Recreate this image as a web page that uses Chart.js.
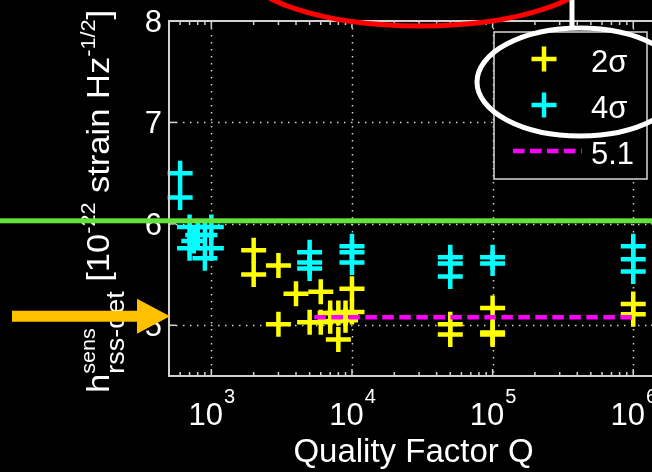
<!DOCTYPE html>
<html><head><meta charset="utf-8">
<script src="https://cdn.jsdelivr.net/npm/chart.js@4/dist/chart.umd.min.js"></script>
<style>html,body{margin:0;padding:0;background:#000;overflow:hidden;width:652px;height:472px}canvas{display:block}</style>
</head><body>
<canvas id="c" width="700" height="472" style="width:700px;height:472px"></canvas>
<script>
// ---- data ----
const yellowQ = [2000,2000,3000,3000,4000,6000,10000,10000,5000,6000,7000,7000,8000,8000,9000,9000,50000,50000,100000,100000,100000,1000000,1000000];
const yellowH = [5.74,5.50,5.59,5.01,5.31,5.33,5.36,5.13,5.03,5.03,5.12,5.04,5.12,4.86,5.12,5.05,5.01,4.91,5.17,4.93,4.91,5.21,5.11];
const cyanQ = [600,600,700,1000,800,900,700,1000,900,750,5000,5000,5000,10000,10000,10000,50000,50000,50000,100000,100000,1000000,1000000,1000000];
const cyanH = [6.50,6.26,5.97,5.97,5.89,5.89,5.76,5.76,5.66,5.83,5.72,5.62,5.56,5.78,5.72,5.62,5.67,5.61,5.48,5.67,5.61,5.78,5.65,5.53];
const refQ = [5400, 1000000];
const refH = 5.08;
const greenH = 6.03;
const arrowH = 5.09;
const xMajor = [1000, 10000, 100000, 1000000];
const xExp = ['3', '4', '5', '6'];
const yTicks = [5, 6, 7, 8];
const yTickLabels = ['5', '6', '7', '8'];
const legendLabels = ['2\u03c3', '4\u03c3', '5.1'];
const xTitle = 'Quality Factor Q';

const FONT = '"Liberation Sans", Arial, Helvetica, sans-serif';
const AXIS = '#d2d2d2';

function minorTicks(min, max) {
  const out = [];
  for (let d = 100; d <= max; d *= 10) {
    for (let m = 2; m <= 9; m++) { const v = m * d; if (v > min && v < max) out.push(v); }
  }
  return out;
}

function drawYTitle(ctx) {
  const segs = [
    {t: 'h', s: 32, dy: 0},
    {stack: [{t: 'sens', s: 20, dy: -14}, {t: 'rss-det', s: 25, dy: 15}]},
    {t: ' [10', s: 32, dy: 0},
    {t: '-22', s: 20, dy: -14},
    {t: ' strain Hz', s: 32, dy: 0},
    {t: '-1/2', s: 20, dy: -14},
    {t: ']', s: 32, dy: 0}
  ];
  ctx.save();
  const w = s => { ctx.font = s.s + 'px ' + FONT; return ctx.measureText(s.t).width; };
  let total = 0;
  segs.forEach(g => { g.w = g.stack ? Math.max(...g.stack.map(w)) : w(g); total += g.w; });
  const scale = 383 / total;
  ctx.translate(109, 393);
  ctx.rotate(-Math.PI / 2);
  ctx.scale(scale, 1);
  ctx.fillStyle = '#fff';
  ctx.textBaseline = 'alphabetic';
  ctx.textAlign = 'left';
  let x = 0;
  segs.forEach(g => {
    const list = g.stack ? g.stack : [g];
    list.forEach(s => { ctx.font = s.s + 'px ' + FONT; ctx.fillText(s.t, x, s.dy); });
    x += g.w;
  });
  ctx.restore();
}

const framePlugin = {
  id: 'frame',
  beforeDatasetsDraw(chart) {
    const {ctx, chartArea: a, scales: {x, y}} = chart;
    ctx.save();
    ctx.strokeStyle = '#d0d0d0';
    ctx.lineWidth = 1.5;
    ctx.setLineDash([1.5, 5.5]);
    xMajor.forEach(v => {
      const px = Math.round(x.getPixelForValue(v)) + 0.5;
      ctx.beginPath(); ctx.moveTo(px, a.top); ctx.lineTo(px, a.bottom); ctx.stroke();
    });
    yTicks.forEach(v => {
      const py = Math.round(y.getPixelForValue(v)) + 0.5;
      if (py <= a.top + 2) return;
      ctx.beginPath(); ctx.moveTo(a.left, py); ctx.lineTo(a.right, py); ctx.stroke();
    });
    ctx.restore();
  },
  afterDatasetsDraw(chart) {
    const {ctx, chartArea: a, scales: {x, y}} = chart;
    ctx.save();
    // frame
    ctx.strokeStyle = AXIS;
    ctx.lineWidth = 2;
    ctx.setLineDash([]);
    ctx.strokeRect(a.left, a.top, a.right - a.left, a.bottom - a.top);
    // x ticks (inward, top and bottom)
    ctx.lineWidth = 1.5;
    const tick = (v, len) => {
      const px = x.getPixelForValue(v);
      ctx.beginPath();
      ctx.moveTo(px, a.bottom); ctx.lineTo(px, a.bottom - len);
      ctx.moveTo(px, a.top); ctx.lineTo(px, a.top + len);
      ctx.stroke();
    };
    minorTicks(x.min, x.max).forEach(v => tick(v, 4));
    xMajor.forEach(v => tick(v, 7));
    yTicks.forEach(v => {
      const py = y.getPixelForValue(v);
      ctx.beginPath(); ctx.moveTo(a.left, py); ctx.lineTo(a.left + 7, py); ctx.stroke();
      ctx.beginPath(); ctx.moveTo(a.right, py); ctx.lineTo(a.right - 7, py); ctx.stroke();
    });
    // y tick labels
    ctx.fillStyle = '#fff';
    ctx.font = '31px ' + FONT;
    ctx.textAlign = 'right';
    ctx.textBaseline = 'alphabetic';
    yTicks.forEach((v, i) => ctx.fillText(yTickLabels[i], 162, y.getPixelForValue(v) + 11));
    // x tick labels 10^n
    xMajor.forEach((v, i) => {
      const px = x.getPixelForValue(v);
      ctx.font = '31px ' + FONT;
      const w1 = ctx.measureText('10').width;
      ctx.font = '20px ' + FONT;
      const w2 = ctx.measureText(xExp[i]).width;
      const x0 = px - (w1 + w2) / 2;
      ctx.textAlign = 'left';
      ctx.font = '31px ' + FONT;
      ctx.fillText('10', x0, 425);
      ctx.font = '20px ' + FONT;
      ctx.fillText(xExp[i], x0 + w1 + 1, 403);
    });
    // x title
    ctx.font = '33px ' + FONT;
    ctx.textAlign = 'center';
    ctx.fillText(xTitle, (a.left + a.right) / 2, 462);
    drawYTitle(ctx);

    // legend
    ctx.fillStyle = '#000';
    ctx.fillRect(494, 32, 153, 147);
    ctx.strokeStyle = '#d8d8d8';
    ctx.lineWidth = 1.5;
    ctx.strokeRect(494, 32, 153, 147);
    const ds = chart.data.datasets;
    const rows = [59, 105, 151];
    [ds[1], ds[2]].forEach((d, i) => {
      ctx.strokeStyle = d.borderColor;
      ctx.lineWidth = 4.5;
      ctx.beginPath();
      ctx.moveTo(544 - 12.5, rows[i]); ctx.lineTo(544 + 12.5, rows[i]);
      ctx.moveTo(544, rows[i] - 12.5); ctx.lineTo(544, rows[i] + 12.5);
      ctx.stroke();
    });
    ctx.strokeStyle = ds[0].borderColor;
    ctx.lineWidth = 4.5;
    ctx.setLineDash(ds[0].borderDash);
    ctx.beginPath(); ctx.moveTo(513, rows[2]); ctx.lineTo(582, rows[2]); ctx.stroke();
    ctx.setLineDash([]);
    ctx.fillStyle = '#fff';
    ctx.font = '31px ' + FONT;
    ctx.textAlign = 'left';
    legendLabels.forEach((t, i) => ctx.fillText(t, 591, rows[i] + 13));

    // green horizontal line across the whole picture
    const gy = y.getPixelForValue(greenH);
    ctx.fillStyle = '#62e33a';
    ctx.fillRect(0, gy - 2.5, chart.width, 5);

    // orange arrow
    const ay = y.getPixelForValue(arrowH);
    ctx.fillStyle = '#ffc000';
    ctx.beginPath();
    ctx.moveTo(12, ay - 5.5); ctx.lineTo(137, ay - 5.5); ctx.lineTo(137, ay - 17.5);
    ctx.lineTo(170, ay); ctx.lineTo(137, ay + 17.5); ctx.lineTo(137, ay + 5.5);
    ctx.lineTo(12, ay + 5.5); ctx.closePath(); ctx.fill();

    // red ellipse (partly above the picture)
    ctx.strokeStyle = '#ff0000';
    ctx.lineWidth = 5;
    ctx.beginPath(); ctx.ellipse(420, -34, 178, 60, 0, 0, Math.PI * 2); ctx.stroke();
    // white ellipse round the legend, with line from top
    ctx.strokeStyle = '#ffffff';
    ctx.beginPath(); ctx.ellipse(580, 82, 103, 54, 0, 0, Math.PI * 2); ctx.stroke();
    ctx.beginPath(); ctx.moveTo(572, 0); ctx.lineTo(572, 28.5); ctx.stroke();
    ctx.restore();
  }
};

const mk = (qs, hs) => qs.map((q, i) => ({x: q, y: hs[i]}));

new Chart(document.getElementById('c'), {
  type: 'scatter',
  data: {
    datasets: [
      {label: legendLabels[2], type: 'line', data: refQ.map(q => ({x: q, y: refH})),
        borderColor: '#ff00ff', borderWidth: 4.5, borderDash: [11.5, 5.5], pointRadius: 0, fill: false, clip: false},
      {label: legendLabels[0], data: mk(yellowQ, yellowH), pointStyle: 'cross', pointRadius: 12.5,
        borderColor: '#ffff00', backgroundColor: '#ffff00', pointBorderWidth: 4.5, borderWidth: 4.5, clip: false},
      {label: legendLabels[1], data: mk(cyanQ, cyanH), pointStyle: 'cross', pointRadius: 12.5,
        borderColor: '#00ffff', backgroundColor: '#00ffff', pointBorderWidth: 4.5, borderWidth: 4.5, clip: false}
    ]
  },
  options: {
    responsive: false,
    devicePixelRatio: 1,
    animation: false,
    events: [],
    layout: {padding: {left: 169, top: 21, right: 42, bottom: 96}},
    plugins: {legend: {display: false}, tooltip: {enabled: false}, title: {display: false}},
    scales: {
      x: {type: 'logarithmic', min: 500, max: 1500000, display: false},
      y: {type: 'linear', min: 4.5, max: 8, display: false}
    }
  },
  plugins: [framePlugin]
});
</script>
</body></html>
